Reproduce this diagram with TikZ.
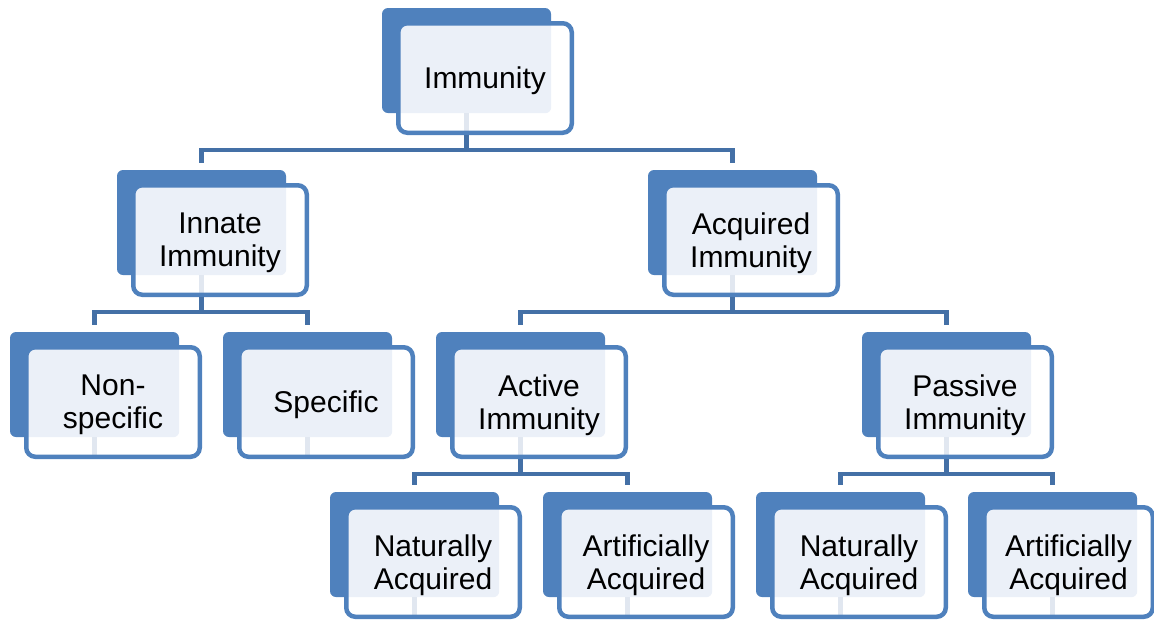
\documentclass[tikz,border=0pt]{standalone}
\usepackage{fontspec}
\setmainfont{Liberation Sans}
\definecolor{bk}{HTML}{4F81BD}
\definecolor{lt}{HTML}{EBF0F8}
\definecolor{ln}{HTML}{4470A6}
\definecolor{seg}{HTML}{E1E7F0}
\pgfdeclarelayer{bglayer}
\pgfsetlayers{bglayer,main}
\tikzset{
  backbox/.style={fill=bk, rounded corners=6pt, minimum width=169pt, minimum height=105pt, inner sep=0pt, draw=none},
  frontbox/.style={draw=bk, line width=4.5pt, rounded corners=9pt, minimum height=109.5pt, inner sep=0pt},
  textnode/.style={inner sep=0pt, align=center, font=\fontsize{30}{33}\selectfont},
  conn/.style={draw=ln, line width=4.5pt},
  childconn/.style={conn, shorten >=6.5pt},
}
\newcommand\tbox[5][173.5]{%
  \begin{pgfonlayer}{bglayer}
    \node[backbox] (#2b) at (#3+84.5,#4+52.5) {};
  \end{pgfonlayer}
  \node[frontbox, minimum width=#1pt] (#2) at (#3+16.25+#1/2,#4+70) {};
  \begin{pgfonlayer}{bglayer}
    \fill[white, rounded corners=9pt] ([shift={(2.25pt,-2.25pt)}]#2.north west) rectangle ([shift={(-2.25pt,2.25pt)}]#2.south east);
    \begin{scope}
      \clip[rounded corners=9pt] ([shift={(2.25pt,-2.25pt)}]#2.north west) rectangle ([shift={(-2.25pt,2.25pt)}]#2.south east);
      \fill[lt, rounded corners=6pt] (#2b.north west) rectangle (#2b.south east);
    \end{scope}
    \draw[seg, line width=4.5pt] (#2b.south) -- (#2b.south |- #2.south);
  \end{pgfonlayer}
  \node[textnode] (#2t) at ([yshift=-3pt]#2.center) {#5};
}
\begin{document}
\begin{tikzpicture}[x=1pt,y=-1pt]
  \useasboundingbox (0,0) rectangle (1154,619);
  \tbox{imm}{382}{8}{Immunity}
  \tbox{inn}{117}{170}{Innate\\Immunity}
  \tbox{acq}{648}{170}{Acquired\\Immunity}
  \tbox{non}{10}{332}{Non-\\specific}
  \tbox{spe}{223}{332}{Specific}
  \tbox{act}{436}{332}{Active\\Immunity}
  \tbox{pas}{862}{332}{Passive\\Immunity}
  \tbox{nata}{330}{492}{Naturally\\Acquired}
  \tbox{arta}{543}{492}{Artificially\\Acquired}
  \tbox{natp}{756}{492}{Naturally\\Acquired}
  \tbox[168.5]{artp}{968}{492}{Artificially\\Acquired}
  % connectors
  \draw[conn] (immb.south |- imm.south) -- ++(0,15) coordinate (j0);
  \draw[childconn] (j0) -| (innb.north);
  \draw[childconn] (j0) -| (acqb.north);
  \draw[conn] (innb.south |- inn.south) -- ++(0,15) coordinate (j1);
  \draw[childconn] (j1) -| (nonb.north);
  \draw[childconn] (j1) -| (speb.north);
  \draw[conn] (acqb.south |- acq.south) -- ++(0,15) coordinate (j2);
  \draw[childconn] (j2) -| (actb.north);
  \draw[childconn] (j2) -| (pasb.north);
  \draw[conn] (actb.south |- act.south) -- ++(0,15) coordinate (j3);
  \draw[childconn] (j3) -| (natab.north);
  \draw[childconn] (j3) -| (artab.north);
  \draw[conn] (pasb.south |- pas.south) -- ++(0,15) coordinate (j4);
  \draw[childconn] (j4) -| (natpb.north);
  \draw[childconn] (j4) -| (artpb.north);
\end{tikzpicture}
\end{document}
